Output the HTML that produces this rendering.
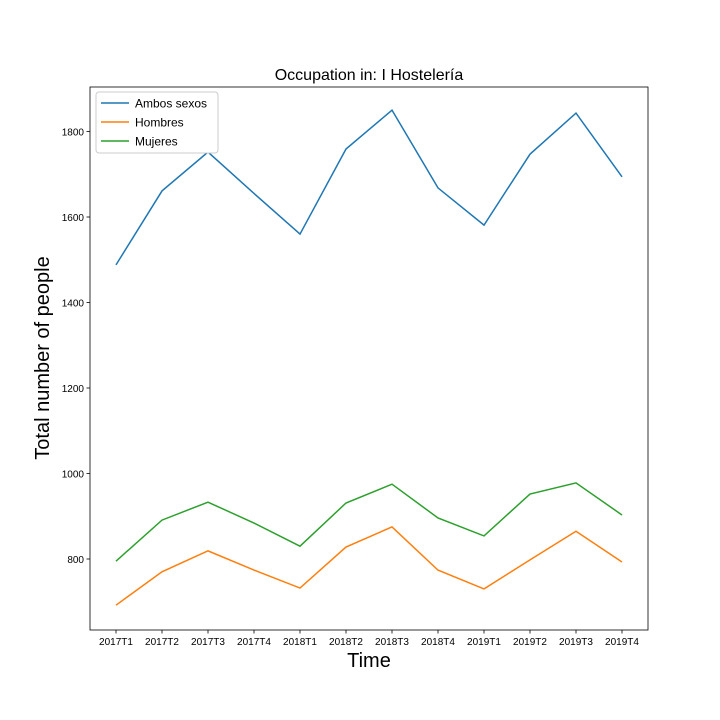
<!DOCTYPE html>
<html><head><meta charset="utf-8">
<style>
body{margin:0;background:#fff;}
svg{display:block;font-family:"Liberation Sans","DejaVu Sans",sans-serif;}
</style></head>
<body>
<svg id="chart" width="720" height="720">
<rect width="720" height="720" fill="#fff"/>
</svg>
<script>
const categories=["2017T1","2017T2","2017T3","2017T4","2018T1","2018T2","2018T3","2018T4","2019T1","2019T2","2019T3","2019T4"];
const ambos=[1488,1661,1752,1655,1560,1759,1850,1668,1581,1747,1843,1694];
const hombres=[692,770,819,774,732,828,875,774,730,798,865,793];
const mujeres=[795,891,933,884,830,931,975,896,854,952,978,903];
const yTicks=[800,1000,1200,1400,1600,1800];
const seriesNames=["Ambos sexos","Hombres","Mujeres"];
const colors=["#1f77b4","#ff7f0e","#2ca02c"];

const NS="http://www.w3.org/2000/svg";
const svg=document.getElementById('chart');
const L=90,R=648,T=87,B=630;
function x(i){return 116+i*46;}
function y(v){return 559-(v-800)*85.5/200;}
function mk(tag,attrs,parent){const e=document.createElementNS(NS,tag);for(const k in attrs)e.setAttribute(k,attrs[k]);(parent||svg).appendChild(e);return e;}

const title=mk('text',{x:369,y:80,'text-anchor':'middle','font-size':16,fill:'#000'});


title.textContent='Occupation in: I Hostelería';

const frame=mk('rect',{x:L,y:T,width:R-L,height:B-T,fill:'none',stroke:'#000','stroke-width':0.8});



yTicks.forEach(v=>{
  const g=mk('g',{});
  
  
  mk('line',{x1:L-3.5,x2:L,y1:y(v),y2:y(v),stroke:'#000','stroke-width':0.8},g);
  const t=mk('text',{x:L-6,y:y(v)+4,'text-anchor':'end','font-size':10},g);
  t.textContent=v;
});
categories.forEach((c,i)=>{
  const g=mk('g',{});
  
  
  mk('line',{x1:x(i),x2:x(i),y1:B,y2:B+3.5,stroke:'#000','stroke-width':0.8},g);
  const t=mk('text',{x:x(i),y:B+15,'text-anchor':'middle','font-size':10},g);
  t.textContent=c;
});

const xt=mk('text',{x:369,y:667,'text-anchor':'middle','font-size':20});


xt.textContent='Time';
const yt=mk('text',{x:49,y:358,'text-anchor':'middle','font-size':20,transform:'rotate(-90 49 358)'});


yt.textContent='Total number of people';

[ambos,hombres,mujeres].forEach((s,k)=>{
  const p=mk('polyline',{points:s.map((v,i)=>x(i)+','+y(v)).join(' '),fill:'none',stroke:colors[k],'stroke-width':1.5});
  
  
});

const lg=mk('g',{});


mk('rect',{x:96,y:92,width:122,height:61,rx:3,fill:'#fff',stroke:'#ccc','stroke-width':1},lg);
seriesNames.forEach((n,k)=>{
  const e=mk('g',{},lg);
  
  
  const ly=103+k*19;
  mk('line',{x1:101,x2:129,y1:ly,y2:ly,stroke:colors[k],'stroke-width':1.5},e);
  const t=mk('text',{x:135,y:ly+4.5,'font-size':12},e);
  t.textContent=n;
});
</script>
</body></html>
